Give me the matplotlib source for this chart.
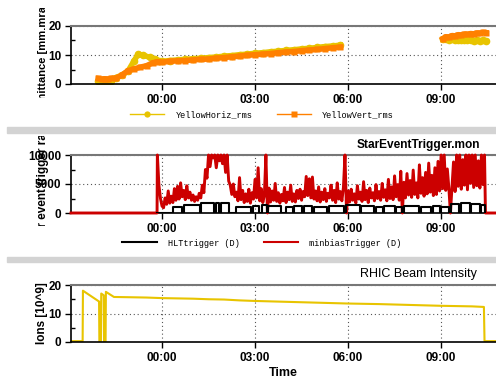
import matplotlib.pyplot as plt
import numpy as np
from matplotlib.lines import Line2D
from matplotlib.patches import Rectangle
from matplotlib.transforms import Bbox

plt.rcParams['font.family'] = ['Liberation Sans', 'DejaVu Sans']

# time axis, hours relative to midnight
t_min, t_max = -2.935, 10.77
hour_ticks = [0, 3, 6, 9]
hour_labels = ['00:00', '03:00', '06:00', '09:00']

# emittance (mm.mrad)
horiz_t = [-2.05, -1.95, -1.85, -1.75, -1.65, np.nan,
           -1.5, -1.3, -1.1, -0.9, -0.77, -0.6, -0.4, -0.23, -0.1, 0.0,
           0.25, 0.5, 0.75, 1.0, 1.25, 1.5, 1.75, 2.0, 2.25, 2.5, 2.75, 3.0,
           3.25, 3.5, 3.75, 4.0, 4.25, 4.5, 4.75, 5.0, 5.25, 5.5, 5.75, np.nan,
           9.05, 9.15, 9.25, 9.35, 9.45, 9.55, 9.65, 9.75, 9.85, 9.95, 10.05,
           10.15, 10.25, 10.35, 10.45]
horiz_v = [1.0, 0.9, 1.0, 1.1, 1.2, np.nan,
           2.2, 3.0, 4.4, 8.0, 10.3, 9.9, 9.2, 8.6, 8.0, 7.8,
           8.1, 8.3, 8.5, 8.7, 8.9, 9.1, 9.3, 9.6, 9.8, 10.1, 10.3, 10.6,
           10.8, 11.1, 11.3, 11.6, 11.8, 12.1, 12.3, 12.6, 12.9, 13.1, 13.4, np.nan,
           15.4, 15.5, 15.3, 15.4, 15.2, 15.3, 15.1, 15.2, 15.0, 15.1, 14.9,
           15.0, 14.9, 15.0, 14.8]
vert_t = [-2.05, -1.95, -1.85, -1.75, -1.65, np.nan,
          -1.5, -1.3, -1.1, -0.9, -0.7, -0.5, -0.3, -0.15, 0.0,
          0.25, 0.5, 0.75, 1.0, 1.25, 1.5, 1.75, 2.0, 2.25, 2.5, 2.75, 3.0,
          3.25, 3.5, 3.75, 4.0, 4.25, 4.5, 4.75, 5.0, 5.25, 5.5, 5.75, np.nan,
          9.05, 9.15, 9.25, 9.35, 9.45, 9.55, 9.65, 9.75, 9.85, 9.95, 10.05,
          10.15, 10.25, 10.35, 10.45]
vert_v = [1.9, 1.7, 1.8, 1.7, 1.9, np.nan,
          2.0, 3.0, 4.6, 5.2, 5.8, 6.3, 7.3, 7.7, 7.5,
          7.8, 8.0, 8.1, 8.3, 8.5, 8.6, 8.9, 9.1, 9.4, 9.6, 9.9, 10.1,
          10.3, 10.5, 10.8, 11.0, 11.2, 11.5, 11.7, 11.9, 12.2, 12.5, 12.7, np.nan,
          15.6, 16.3, 16.2, 16.7, 16.6, 17.0, 16.9, 17.2, 17.1, 17.4, 17.3,
          17.6, 17.5, 17.8, 17.7]

# trigger rates
minbias_start, minbias_step = -0.15, 0.05
minbias_v = [10000, 4800, 2500,
             1200, 900, 2600, 1500, 3800, 1700, 2900, 1800, 4200, 2200, 4600, 2400, 5200, 2800, 3900, 2300, 4700, 2600, 3600, 2200,
             3100, 2000, 2800, 2200, 3400, 2600, 4800, 3500, 7500, 6000, 10000, 8000, 10000, 9500, 10000, 7800, 10000, 9000, 10000, 8500,
             10000, 7000, 10000, 5500, 4800, 3200, 5000, 2800, 3600, 2100, 6100, 2300, 3900, 1800, 3300, 2000, 4100, 1700, 3500, 2400,
             5800, 2600, 7800, 2100, 4200, 1800, 3000, 10000, 0, 4300, 1900, 3800, 2200, 5100, 2000, 3500, 1700, 3200, 2100, 4400,
             1800, 3600, 2300, 4800, 2000, 3300, 1900, 3900, 2500, 4100, 2200, 3700, 2800, 6300, 3000, 5900, 2600, 6200, 2400, 3800,
             2100, 4500, 1900, 3600, 2300, 4200, 2000, 3400, 2600, 4800, 2200, 3900, 1800, 5200, 2400, 3700, 2100, 4400, 10000, 0,
             3800, 1900, 4100, 2200, 3300, 1700, 4700, 2400, 3600, 2000, 5400, 2300, 3900, 1800, 4300, 2600, 3500, 2100, 4900, 2500,
             3700, 2200, 5100, 2700, 4000, 2100, 5800, 2500, 4500, 2300, 6400, 2800, 4900, 2200, 7200, 0, 5300, 2600, 6800, 3100,
             5600, 2700, 7400, 3200, 5200, 2600, 8300, 3400, 6100, 2900, 7000, 3300, 8600, 3600, 6500, 3000, 7800, 3200, 8900, 3800,
             10000, 4200, 10000, 3900, 7600, 4300, 0, 4500, 8800, 3700, 10000, 4600, 10000, 4100, 9200, 4800, 10000, 4000, 10000, 5100,
             10000, 4400, 10000, 4700, 9000, 4300, 10000, 4900, 10000]
hlt_start = [0.34, 0.70, 1.25, 1.73, 1.89, 2.37, 2.92, 3.24, 3.41, 3.99, 4.25, 4.57, 4.89, 5.37,
             5.92, 6.41, 6.89, 7.15, 7.54, 7.79, 8.34, 8.73, 8.99, 9.31, 9.63, 9.96, 10.28]
hlt_end = [0.66, 1.21, 1.69, 1.85, 2.17, 2.88, 3.14, 3.37, 3.85, 4.21, 4.53, 4.85, 5.33, 5.88,
           6.37, 6.85, 7.11, 7.50, 7.75, 8.30, 8.69, 8.95, 9.27, 9.59, 9.92, 10.24, 10.40]
hlt_level = [1100, 1400, 1800, 1800, 1800, 1100, 1200, 1300, 1200, 1100, 1200, 1200, 1100, 1200,
             1300, 1200, 1100, 1200, 1100, 1200, 1100, 1200, 1100, 1500, 1800, 1600, 1400]

# beam intensity (10^9 ions)
beam_t = [-2.935, -2.56, -2.55, -2.03, -2.02, -1.97, -1.96, -1.88, -1.87, -1.82, -1.81,
          -1.55, -1.0, -0.5, 0.0, 0.5, 1.0, 1.5, 2.0, 2.5, 3.0, 4.0, 5.0, 6.0, 7.0,
          8.0, 9.0, 10.0, 10.38, 10.40, 10.77]
beam_v = [0.3, 0.3, 18.0, 14.2, 0.0, 0.0, 17.0, 16.4, 0.0, 0.0, 17.6,
          15.8, 15.7, 15.6, 15.4, 15.3, 15.2, 15.0, 14.9, 14.6, 14.4, 14.1, 13.8, 13.5, 13.3,
          13.0, 12.7, 12.5, 12.3, 0.3, 0.3]

W, H = 496, 382
fig = plt.figure(figsize=(W / 100, H / 100), dpi=100)
legend_font = {'family': 'Liberation Mono', 'size': 6.2}


def add_panel(top, bottom):
    return fig.add_axes([71 / W, 1 - bottom / H, (W - 71) / W, (bottom - top) / H])


def style(ax, ymax):
    ax.set_xlim(t_min, t_max)
    ax.set_ylim(0, ymax)
    ax.set_xticks(hour_ticks)
    ax.set_xticklabels(hour_labels)
    ax.set_yticks([0, ymax / 2, ymax])
    ax.set_yticks([ymax / 4, 3 * ymax / 4], minor=True)
    ax.tick_params(axis='both', which='major', direction='out', length=4, width=1,
                   labelsize=8.5, pad=3)
    ax.tick_params(axis='y', which='minor', direction='in', length=3, width=1)
    for lab in ax.get_xticklabels() + ax.get_yticklabels():
        lab.set_fontweight('bold')
    ax.grid(True, which='major', color='#555555', linestyle=(0, (1, 2.5)), lw=0.8)
    ax.spines['right'].set_visible(False)
    ax.spines['top'].set_color('#777777')
    ax.spines['top'].set_linewidth(1.5)
    ax.spines['bottom'].set_linewidth(1.2)
    ax.spines['left'].set_linewidth(1.2)


def ylabel(text, x, y, size=8.5, clip=None):
    t = fig.text(x / W, 1 - y / H, text, rotation=90, ha='center', va='center',
                 fontsize=size, fontweight='bold')
    if clip is not None:
        t.set_clip_box(Bbox.from_extents(0, H - clip[1], W, H - clip[0]))


# panel 1: emittance
ax1 = add_panel(26, 84)
style(ax1, 20)
ax1.plot(horiz_t, horiz_v, '-o', color='#e8c400', lw=4, ms=5.5, mec='none')
ax1.plot(vert_t, vert_v, '-s', color='#ff8000', lw=4, ms=5, mec='none')
ylabel('Emittance [mm.mrad]', 43, 53, size=8, clip=(8, 98))
h1 = [Line2D([], [], color='#e8c400', lw=1, marker='o', ms=4.5, mec='none'),
      Line2D([], [], color='#ff8000', lw=1, marker='s', ms=4.5, mec='none')]
fig.legend(h1, ['YellowHoriz_rms', 'YellowVert_rms'], loc='center',
           bbox_to_anchor=(262 / W, 1 - 115 / H), ncol=2, frameon=False, prop=legend_font,
           handlelength=4, handletextpad=1.3, columnspacing=2.8)

# panel 2: trigger rates
ax2 = add_panel(155, 213)
style(ax2, 10000)
ax2.set_yticks([0, 5000, 10000])
ax2.set_yticklabels(['0', '5000', '10000'], fontweight='bold')
mb_t = minbias_start + minbias_step * np.arange(len(minbias_v))
mb_t = np.concatenate([[t_min, minbias_start - 0.01], mb_t, [mb_t[-1] + 0.03, t_max]])
mb_v = np.concatenate([[0, 0], minbias_v, [0, 0]])
hx, hy = [minbias_start], [0]
for s, e, lev in zip(hlt_start, hlt_end, hlt_level):
    hx += [s, s, e, e]
    hy += [0, lev, lev, 0]
ax2.plot(hx, hy, color='black', lw=1.5, zorder=3)
ax2.plot(mb_t, mb_v, color='#cc0000', lw=2.1, zorder=2.6, clip_on=False)
ax2.text(480 / W, 1 - 145 / H, 'StarEventTrigger.mon', transform=fig.transFigure,
         ha='right', va='center', fontsize=8.6, fontweight='bold')
ylabel('Star event trigger rate', 43, 184, clip=(136, 226))
h2 = [Line2D([], [], color='black', lw=1.5), Line2D([], [], color='#cc0000', lw=1.5)]
fig.legend(h2, ['HLTtrigger (D)', 'minbiasTrigger (D)'], loc='center',
           bbox_to_anchor=(262 / W, 1 - 243 / H), ncol=2, frameon=False, prop=legend_font,
           handlelength=4, handletextpad=1.3, columnspacing=2.8)

# panel 3: beam intensity
ax3 = add_panel(285, 342)
style(ax3, 20)
ax3.plot(beam_t, beam_v, color='#e8c400', lw=1.5)
ax3.text(477 / W, 1 - 274 / H, 'RHIC Beam Intensity', transform=fig.transFigure,
         ha='right', va='center', fontsize=9, fontweight='normal')
ylabel('Ions [10^9]', 42, 313)
fig.text(283 / W, 1 - 373 / H, 'Time', ha='center', va='center', fontsize=9,
         fontweight='bold')

# grey separators between the panels
for y0, y1 in [(127, 133), (257, 262)]:
    fig.patches.append(Rectangle((7 / W, 1 - y1 / H), 1, (y1 - y0) / H,
                                 transform=fig.transFigure, color='#d3d3d3', zorder=0))

fig.savefig('out.png', dpi=100)
